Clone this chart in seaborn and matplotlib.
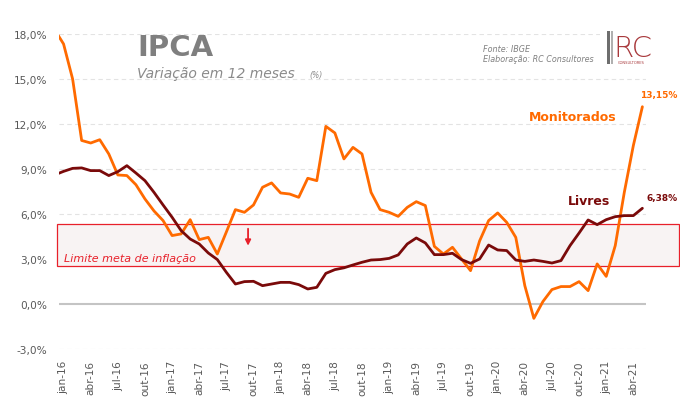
import numpy as np
import pandas as pd
import matplotlib
matplotlib.use("Agg")
import matplotlib.pyplot as plt
import matplotlib.transforms as mtransforms
from matplotlib.patches import Rectangle
import seaborn as sns

# ---------------- data ----------------
# monthly 12-month variation, from dez-15 (index -1) to mai-21 (index 64)
monitorados = [18.3,
    17.33, 15.0, 10.9, 10.73, 10.95, 10.0, 8.6, 8.56, 7.95, 7.0, 6.2, 5.56,
    4.56, 4.67, 5.62, 4.29, 4.44, 3.33, 4.8, 6.29, 6.11, 6.6, 7.78, 8.07,
    7.4, 7.33, 7.11, 8.38, 8.22, 11.84, 11.4, 9.67, 10.44, 10.0, 7.44, 6.29,
    6.11, 5.84, 6.44, 6.82, 6.56, 3.84, 3.33, 3.78, 3.0, 2.22, 4.2, 5.56,
    6.07, 5.44, 4.44, 1.22, -0.96, 0.16, 0.96, 1.16, 1.16, 1.49, 0.89, 2.67,
    1.84, 3.89, 7.44, 10.56, 13.15]
livres = [8.6,
    8.84, 9.04, 9.07, 8.89, 8.89, 8.56, 8.82, 9.22, 8.73, 8.22, 7.44, 6.6,
    5.78, 4.89, 4.33, 4.0, 3.4, 2.96, 2.11, 1.33, 1.49, 1.51, 1.22, 1.33,
    1.44, 1.44, 1.29, 1.0, 1.11, 2.04, 2.29, 2.41, 2.6, 2.78, 2.93, 2.96,
    3.04, 3.27, 4.0, 4.4, 4.07, 3.29, 3.29, 3.38, 2.96, 2.71, 3.0, 3.93,
    3.6, 3.56, 2.93, 2.84, 2.93, 2.84, 2.73, 2.89, 3.89, 4.73, 5.6, 5.29,
    5.62, 5.82, 5.89, 5.89, 6.38]
tick_labels = ["jan-16", "abr-16", "jul-16", "out-16", "jan-17", "abr-17",
               "jul-17", "out-17", "jan-18", "abr-18", "jul-18", "out-18",
               "jan-19", "abr-19", "jul-19", "out-19", "jan-20", "abr-20",
               "jul-20", "out-20", "jan-21", "abr-21"]
y_ticks = [-3, 0, 3, 6, 9, 12, 15, 18]
meta_band = [2.55, 5.3]
last_labels = ["13,15%", "6,38%"]

idx = np.arange(len(monitorados)) - 1
df = pd.DataFrame({"idx": idx, "Monitorados": monitorados, "Livres": livres})

# ---------------- style ----------------
sns.set_theme(style="white")
plt.rcParams["font.family"] = ["DejaVu Sans"]

ORANGE = "#FF6A00"
DARKRED = "#7A0A0A"
GRAY = "#595959"
RED = "#E8202A"

fig = plt.figure(figsize=(6.8, 4.06), dpi=100)
fig.patch.set_facecolor("white")
ax = fig.add_axes([0.0875, 0.138, 0.8625, 0.7759])

# grid
for yv in y_ticks:
    if yv != 0:
        ax.axhline(yv, color="#e3e3e3", lw=0.8, ls=(0, (4, 3)), zorder=0)
ax.axhline(0, color="#c4c4c4", lw=1.5, zorder=1)

# meta band
blend = mtransforms.blended_transform_factory(ax.transAxes, ax.transData)
band = Rectangle((-0.0045, meta_band[0]), 1.06, meta_band[1] - meta_band[0],
                 transform=blend, facecolor="#f8f3f3", edgecolor=RED,
                 lw=0.9, clip_on=False, zorder=1.5)
ax.add_patch(band)
ax.text(0.008, 2.87, "Limite meta de inflação", transform=blend,
        color=RED, fontsize=8, style="italic", va="baseline", ha="left",
        zorder=3)
ax.annotate("", xy=(20.4, 3.7), xytext=(20.4, 5.2),
            arrowprops=dict(arrowstyle="-|>", color=RED, lw=1.3,
                            mutation_scale=8), zorder=3)

# lines
sns.lineplot(data=df, x="idx", y="Monitorados", color=ORANGE, lw=2.0,
             ax=ax, zorder=4)
sns.lineplot(data=df, x="idx", y="Livres", color=DARKRED, lw=2.0,
             ax=ax, zorder=4)

ax.set_xlim(-0.45, 64.4)
ax.set_ylim(-3, 18)
ax.set_xlabel("")
ax.set_ylabel("")
for s in ax.spines.values():
    s.set_visible(False)

ax.set_yticks(y_ticks)
ax.set_yticklabels([f"{v:.1f}%".replace(".", ",") for v in y_ticks])
ax.set_xticks(np.arange(0, 3 * len(tick_labels), 3))
ax.set_xticklabels(tick_labels, rotation=90)
ax.tick_params(axis="y", length=0, pad=9, labelsize=7.6, labelcolor=GRAY)
ax.tick_params(axis="x", length=0, pad=8, labelsize=7.6, labelcolor=GRAY)

# series labels
ax.text(56.3, 12.5, "Monitorados", color=ORANGE, fontsize=9,
        fontweight="bold", ha="center", va="center", zorder=5)
ax.text(58.1, 6.9, "Livres", color=DARKRED, fontsize=9,
        fontweight="bold", ha="center", va="center", zorder=5)
ax.annotate(last_labels[0], xy=(idx[-1], monitorados[-1]),
            xytext=(12, 9), textcoords="offset points", color=ORANGE,
            fontsize=6.5, fontweight="bold", ha="center", va="center",
            annotation_clip=False)
ax.annotate(last_labels[1], xy=(idx[-1], livres[-1]),
            xytext=(14, 8), textcoords="offset points", color=DARKRED,
            fontsize=6.5, fontweight="bold", ha="center", va="center",
            annotation_clip=False)

# titles
fig.text(137 / 680, 1 - 56 / 406, "IPCA", fontsize=21, fontweight="bold",
         color="#7f7f7f", ha="left", va="baseline")
fig.text(137 / 680, 1 - 78 / 406, "Variação em 12 meses", fontsize=10,
         style="italic", color="#8a8a8a", ha="left", va="baseline")
fig.text(309 / 680, 1 - 78 / 406, "(%)", fontsize=5.5,
         style="italic", color="#8a8a8a", ha="left", va="baseline")

# source
fig.text(483 / 680, 1 - 49 / 406, "Fonte: IBGE", fontsize=5.8,
         style="italic", color="#808080", ha="left", va="center")
fig.text(483 / 680, 1 - 60 / 406, "Elaboração: RC Consultores", fontsize=5.8,
         style="italic", color="#808080", ha="left", va="center")

# logo
def px_rect(x0, y0, w, h, **kw):
    fig.add_artist(Rectangle((x0 / 680, 1 - (y0 + h) / 406), w / 680, h / 406,
                             transform=fig.transFigure, **kw))

px_rect(600, 28, 52, 40, facecolor="white", edgecolor="none", zorder=5)
px_rect(607, 32, 3, 33, facecolor="#6e6e6e", edgecolor="none", zorder=6)
px_rect(611, 32, 2, 33, facecolor="#b0b0b0", edgecolor="none", zorder=6)
fig.text(613 / 680, 1 - 57 / 406, "RC", fontsize=21, color="#a8383b",
         fontweight="light", ha="left", va="baseline", zorder=7,
         family=["DejaVu Sans"])
fig.text(631 / 680, 1 - 63.5 / 406, "CONSULTORES", fontsize=2.6,
         color="#a8383b", ha="center", va="center", zorder=7)

fig.savefig("out.png", dpi=100, facecolor="white")
